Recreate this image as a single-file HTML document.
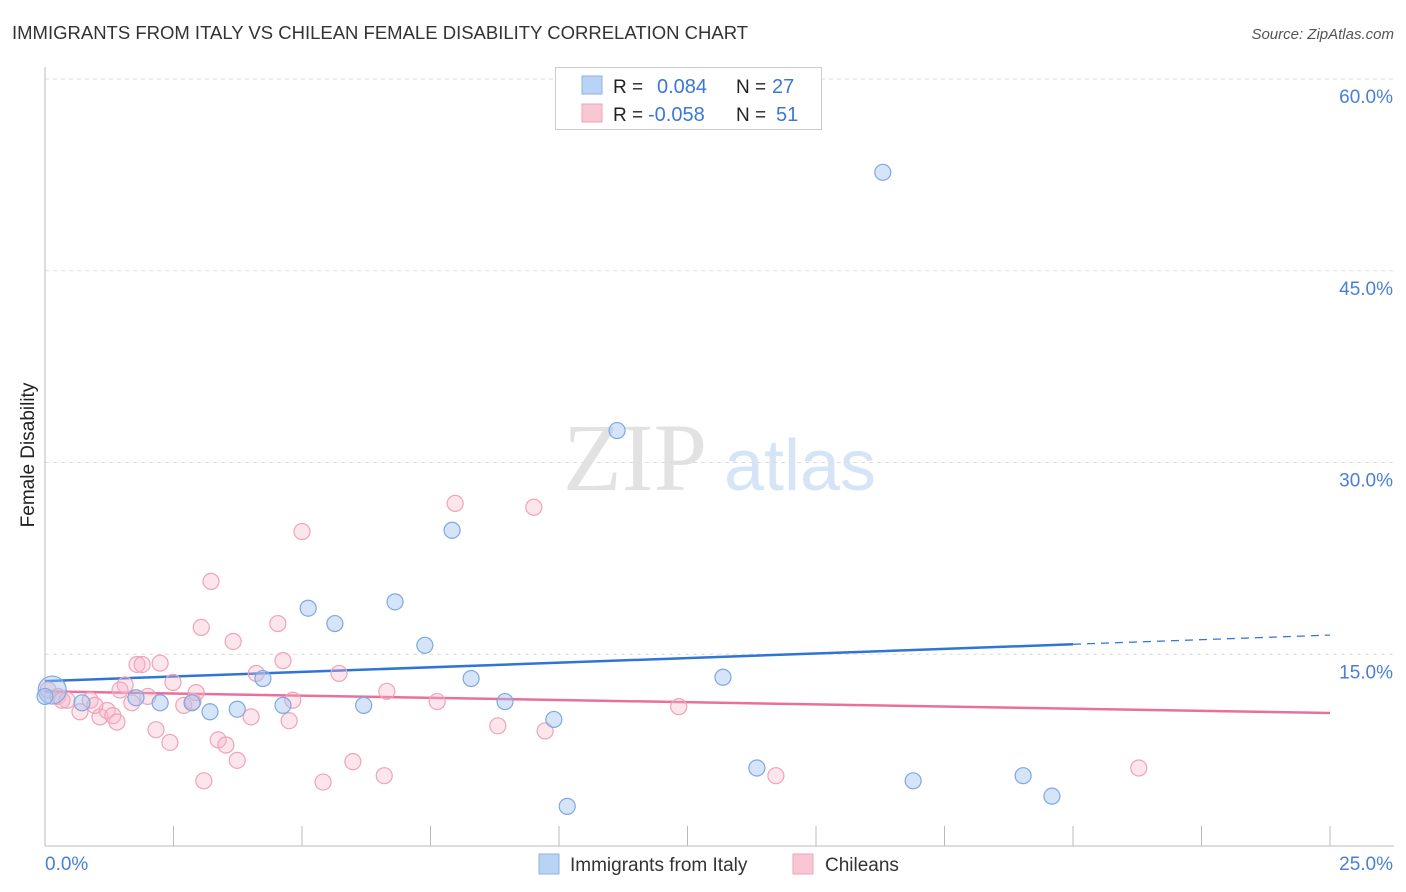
<!DOCTYPE html>
<html><head><meta charset="utf-8"><style>
body{margin:0;background:#fff;font-family:"Liberation Sans",sans-serif}
svg{display:block}
</style></head><body>
<svg id="chart" width="1406" height="892">
<text x="12" y="39" font-size="18.5" fill="#333">IMMIGRANTS FROM ITALY VS CHILEAN FEMALE DISABILITY CORRELATION CHART</text>
<text x="1394" y="39" font-size="15" fill="#555" font-style="italic" text-anchor="end">Source: ZipAtlas.com</text>
<text x="34" y="455" font-size="19" fill="#222" transform="rotate(-90 34 455)" text-anchor="middle">Female Disability</text>
<g><text x="635" y="490" font-size="96" fill="#e2e2e2" font-family="Liberation Serif,serif" text-anchor="middle">ZIP</text><text x="800" y="490" font-size="72" fill="#d6e4f7" text-anchor="middle">atlas</text></g>
<g id="grid"></g><g id="axes"></g><g id="lines"></g><g id="pts"></g>
<g>
<rect x="555.5" y="67.5" width="266" height="62" fill="#fff" stroke="#ccc"/>
<rect x="582" y="76" width="20" height="18" fill="#b9d3f5" stroke="#8db2e8"/>
<rect x="582" y="104" width="20" height="18" fill="#f9c6d4" stroke="#f0a2bb"/>
<text x="613" y="93" font-size="19" fill="#222">R =</text><text x="657" y="93" font-size="20" fill="#3b78d6">0.084</text>
<text x="736" y="93" font-size="19" fill="#222">N =</text><text x="772" y="93" font-size="20" fill="#3b78d6">27</text>
<text x="613" y="121" font-size="19" fill="#222">R =</text><text x="648" y="121" font-size="20" fill="#3b78d6">-0.058</text>
<text x="736" y="121" font-size="19" fill="#222">N =</text><text x="776" y="121" font-size="20" fill="#3b78d6">51</text>
</g>
<g>
<rect x="539" y="854" width="20" height="20" fill="#b9d3f5" stroke="#8db2e8"/>
<text x="570" y="871" font-size="19" fill="#333">Immigrants from Italy</text>
<rect x="793" y="854" width="20" height="20" fill="#f9c6d4" stroke="#f0a2bb"/>
<text x="825" y="871" font-size="19" fill="#333">Chileans</text>
</g>
</svg>
<script>
const yTicks=[15,30,45,60];
const yTickLabels=["15.0%","30.0%","45.0%","60.0%"];
const xLabels=["0.0%","25.0%"];
const italyX=[0.14,0.72,1.77,2.24,2.86,3.21,3.74,4.24,4.63,5.12,5.64,6.20,6.81,7.39,7.92,8.29,8.95,9.90,10.16,11.13,13.19,13.85,16.30,16.89,19.03,19.59,0.0];
const italyY=[12.2,11.2,11.6,11.2,11.2,10.5,10.7,13.1,11.0,18.6,17.4,11.0,19.1,15.7,24.7,13.1,11.3,9.9,3.1,32.5,13.2,6.1,52.7,5.1,5.5,3.9,11.7];
const chileX=[0.06,0.25,0.43,0.68,0.88,1.07,1.21,1.32,1.40,1.56,1.69,1.79,1.89,2.00,2.16,2.24,2.43,2.49,2.70,2.88,2.94,3.04,3.09,3.23,3.37,3.52,3.66,3.74,4.01,4.11,4.53,4.63,4.75,4.82,5.00,5.41,5.72,5.99,6.60,6.65,7.63,7.98,8.81,9.51,9.73,12.33,14.22,21.28,0.33,0.97,1.46];
const chileY=[12.2,11.7,11.4,10.5,11.4,10.1,10.6,10.2,9.7,12.6,11.2,14.2,14.2,11.7,9.1,14.3,8.1,12.8,11.0,11.3,12.0,17.1,5.1,20.7,8.3,7.9,16.0,6.7,10.1,13.5,17.4,14.5,9.8,11.4,24.6,5.0,13.5,6.6,5.5,12.1,11.3,26.8,9.4,26.5,9.0,10.9,5.5,6.1,11.4,11.0,12.2];
const italyTrend=[12.9,16.5];
const chileTrend=[12.1,10.4];
const NS="http://www.w3.org/2000/svg";
const X=v=>45+v*(1330-45)/25, Y=v=>846-v*(846-79)/60;
function mk(t,a,p){const e=document.createElementNS(NS,t);for(const k in a)e.setAttribute(k,a[k]);p.appendChild(e);return e;}
const grid=document.getElementById('grid'),axes=document.getElementById('axes'),lines=document.getElementById('lines'),pts=document.getElementById('pts');
yTicks.forEach((v,i)=>{
 const l=mk('line',{x1:45,x2:1394,y1:Y(v),y2:Y(v),stroke:'#ddd','stroke-dasharray':'4,4'},grid);
 
 
 const t=mk('text',{x:1393,y:Y(v)+24,'font-size':19,fill:'#4a7fd6','text-anchor':'end'},grid);t.textContent=yTickLabels[i];
 
 
});
mk('line',{x1:45,x2:45,y1:67,y2:846,stroke:'#bbb'},axes);
mk('line',{x1:45,x2:1394,y1:846,y2:846,stroke:'#bbb'},axes);
for(let i=1;i<=10;i++){const x=X(i*2.5);mk('line',{x1:x,x2:x,y1:826,y2:846,stroke:'#bbb'},axes);}
[[45,'start',0],[1393,'end',1]].forEach(([x,a,i])=>{const t=mk('text',{x:x,y:870,'font-size':19,fill:'#4a7fd6','text-anchor':a},axes);t.textContent=xLabels[i];
 
 });
const bl=mk('line',{x1:X(0),y1:Y(italyTrend[0]),x2:X(20),y2:Y(italyTrend[0]+(italyTrend[1]-italyTrend[0])*0.8),stroke:'#2f74d6','stroke-width':2.5},lines);


mk('line',{x1:X(20),y1:Y(italyTrend[0]+(italyTrend[1]-italyTrend[0])*0.8),x2:X(25),y2:Y(italyTrend[1]),stroke:'#2f74d6','stroke-width':1.2,'stroke-dasharray':'8,6'},lines);
const pl=mk('line',{x1:X(0),y1:Y(chileTrend[0]),x2:X(25),y2:Y(chileTrend[1]),stroke:'#e8709a','stroke-width':2.5},lines);


chileX.forEach((x,i)=>{const c=mk('circle',{cx:X(x),cy:Y(chileY[i]),r:8,fill:'rgba(248,180,200,0.35)',stroke:'#eea3bb','stroke-width':1.2},pts);
 
 });
italyX.forEach((x,i)=>{const c=mk('circle',{cx:X(x),cy:Y(italyY[i]),r:i==0?14:8,fill:'rgba(164,196,240,0.45)',stroke:'#7ea8e2','stroke-width':1.2},pts);
 
 });
</script>
</body></html>
